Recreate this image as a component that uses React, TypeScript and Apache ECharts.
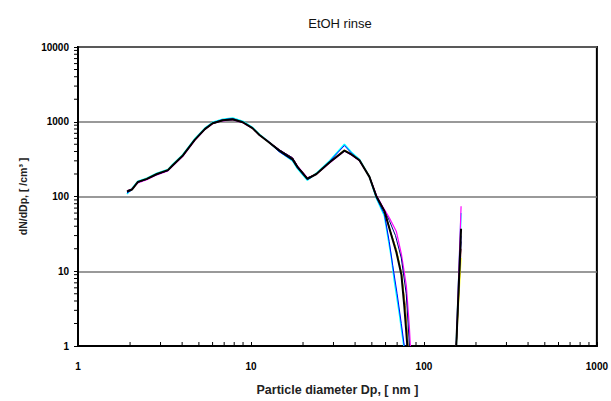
import React, { useEffect, useRef } from "react";
import * as echarts from "echarts";

// Particle diameter (nm) for the common body of all curves
const dpBody = [1.92, 2.05, 2.22, 2.5, 2.86, 3.31, 3.53, 4.04, 4.73, 5.41, 6.01, 6.87, 7.84, 8.96, 10.2, 11.2, 12.8, 14.6, 17.4, 18.6, 21.2, 23.9, 28.5, 34.7, 38.1, 42.4, 48.4, 53.1];

// dN/dDp values per run (body)
const dnBlack = [116, 124, 157, 172, 200, 225, 262, 354, 573, 798, 956, 1046, 1078, 985, 822, 666, 524, 411, 314, 247, 172, 200, 287, 411, 365, 305, 183, 100];
const dnCyan = [108, 128, 160, 176, 205, 230, 270, 365, 590, 820, 985, 1080, 1120, 1020, 840, 680, 530, 400, 300, 235, 165, 205, 300, 500, 390, 315, 185, 95];
const dnBlue = [112, 122, 155, 170, 198, 222, 258, 350, 580, 810, 970, 1065, 1100, 1000, 830, 670, 520, 395, 305, 240, 168, 200, 295, 480, 380, 310, 182, 97];
const dnMagenta = [118, 126, 152, 168, 195, 220, 255, 345, 560, 785, 940, 1030, 1060, 970, 815, 660, 530, 420, 325, 255, 178, 198, 280, 405, 360, 300, 185, 105];
const dnRed = [120, 125, 156, 171, 199, 224, 260, 352, 568, 792, 950, 1040, 1070, 990, 825, 668, 528, 418, 330, 252, 178, 199, 285, 415, 362, 302, 184, 102];
const dnYellow = [117, 124, 156, 172, 200, 226, 261, 353, 570, 795, 952, 1043, 1075, 988, 820, 664, 522, 415, 318, 249, 174, 200, 284, 420, 368, 306, 186, 101];
const dnPurple = [119, 125, 154, 170, 197, 222, 257, 348, 565, 788, 945, 1035, 1065, 980, 818, 662, 527, 422, 328, 254, 176, 199, 283, 410, 362, 301, 186, 104];

// Tails (diameter, value) per run
const tailDpBlack = [59.1, 64.9, 69.3, 74.1, 77.1, 80.2];
const tailDnBlack = [63.7, 30, 18, 9.0, 3.3, 1];
const tailDpCyan = [59.1, 64.9, 67.5, 72.1, 75.1, 76.5];
const tailDnCyan = [54.8, 15, 7.3, 2.7, 1.35, 1];
const tailDpBlue = [59.1, 63, 66, 70, 74, 77];
const tailDnBlue = [58, 25, 12, 5, 2, 1];
const tailDpMagenta = [58, 63.1, 69.3, 74.1, 79.1, 82.4, 83.5];
const tailDnMagenta = [72, 52, 34, 17, 6.5, 1.8, 1];
const tailDpRed = [59, 64, 69, 74, 78, 81];
const tailDnRed = [66, 34, 20, 9.5, 3.5, 1];
const tailDpYellow = [59, 64.5, 69.5, 74.5, 78, 80.8];
const tailDnYellow = [64, 32, 19, 9, 3, 1];
const tailDpPurple = [58, 63, 68.5, 74, 79, 82.5];
const tailDnPurple = [70, 48, 30, 15, 5, 1];

// Large-particle spike
const spikeDp = [153.8, 164];
const spikeTopBlack = 37;
const spikeTopCyan = 60;
const spikeTopBlue = 30;
const spikeTopMagenta = 74;
const spikeTopRed = 20;
const spikeTopYellow = 15;
const spikeTopPurple = 25;

const minorSteps = [2, 3, 4, 5, 6, 7, 8, 9];
const xDecades = [1, 10, 100];
const yDecades = [1, 10, 100, 1000];

function buildData(body: number[], tailDp: number[], tailDn: number[], spikeTop: number) {
  const d: any[] = [];
  dpBody.forEach((x, i) => d.push([x, body[i]]));
  tailDp.forEach((x, i) => d.push([x, tailDn[i]]));
  d.push(["-", "-"]);
  d.push([spikeDp[0], 1]);
  d.push([spikeDp[1], spikeTop]);
  return d;
}

export default function App() {
  const ref = useRef<HTMLDivElement>(null);
  useEffect(() => {
    if (!ref.current) return;
    const chart = echarts.init(ref.current, undefined, { renderer: "svg" });
    const runs = [
      { name: "run 1", color: "#00ffff", body: dnCyan, tdp: tailDpCyan, tdn: tailDnCyan, top: spikeTopCyan, w: 1.5 },
      { name: "run 2", color: "#0000ff", body: dnBlue, tdp: tailDpBlue, tdn: tailDnBlue, top: spikeTopBlue, w: 1 },
      { name: "run 3", color: "#ff00ff", body: dnMagenta, tdp: tailDpMagenta, tdn: tailDnMagenta, top: spikeTopMagenta, w: 1.2 },
      { name: "run 4", color: "#800000", body: dnRed, tdp: tailDpRed, tdn: tailDnRed, top: spikeTopRed, w: 1 },
      { name: "run 5", color: "#ffff00", body: dnYellow, tdp: tailDpYellow, tdn: tailDnYellow, top: spikeTopYellow, w: 1.2 },
      { name: "run 6", color: "#000080", body: dnPurple, tdp: tailDpPurple, tdn: tailDnPurple, top: spikeTopPurple, w: 1 },
      { name: "mean", color: "#000000", body: dnBlack, tdp: tailDpBlack, tdn: tailDnBlack, top: spikeTopBlack, w: 2 },
    ];
    const minorData: any[] = [];
    xDecades.forEach((dec) => minorSteps.forEach((s) => minorData.push([dec * s, 1, 0])));
    yDecades.forEach((dec) => minorSteps.forEach((s) => minorData.push([1, dec * s, 1])));

    const font = "Arial, 'Liberation Sans', sans-serif";
    chart.setOption({
      animation: false,
      title: {
        text: "EtOH rinse",
        left: 335,
        top: 12,
        textAlign: "center",
        textStyle: { fontSize: 13, fontWeight: "normal", color: "#111", fontFamily: font },
      },
      grid: { left: 78, right: 13, top: 47, bottom: 48, show: true, borderColor: "#000", borderWidth: 2, backgroundColor: "transparent" },
      xAxis: {
        type: "log",
        logBase: 10,
        min: 1,
        max: 1000,
        name: "Particle diameter Dp, [ nm ]",
        nameLocation: "middle",
        nameGap: 37,
        nameTextStyle: { fontSize: 12.5, fontWeight: "bold", color: "#222", fontFamily: font },
        axisLine: { show: true, lineStyle: { color: "#000", width: 2 } },
        axisTick: { show: true, inside: true, length: 4, lineStyle: { color: "#000", width: 1 } },
        axisLabel: { margin: 15, fontSize: 10, fontWeight: "bold", color: "#000", fontFamily: font, formatter: (v: number) => String(v) },
        splitLine: { show: false },
      },
      yAxis: {
        type: "log",
        logBase: 10,
        min: 1,
        max: 10000,
        name: "dN/dDp, [ /cm³ ]",
        nameLocation: "middle",
        nameGap: 50,
        nameTextStyle: { fontSize: 10.5, fontWeight: "bold", color: "#222", fontFamily: font },
        axisLine: { show: true, lineStyle: { color: "#000", width: 2 } },
        axisTick: { show: true, inside: false, length: 4, lineStyle: { color: "#000", width: 1 } },
        axisLabel: { margin: 9, fontSize: 10, fontWeight: "bold", color: "#000", fontFamily: font, formatter: (v: number) => String(v) },
        splitLine: { show: true, lineStyle: { color: "#777", width: 1.5 } },
      },
      series: [
        ...runs.map((r) => ({
          name: r.name,
          type: "line",
          symbol: "none",
          data: buildData(r.body, r.tdp, r.tdn, r.top),
          lineStyle: { color: r.color, width: r.w },
          itemStyle: { color: r.color },
          connectNulls: false,
          clip: true,
          z: r.name === "mean" ? 4 : 3,
        })),
        {
          type: "custom",
          data: minorData,
          clip: false,
          silent: true,
          z: 5,
          renderItem: (params: any, api: any) => {
            const p = api.coord([api.value(0), api.value(1)]);
            const kind = api.value(2);
            const shape = kind === 0
              ? { x1: p[0], y1: p[1], x2: p[0], y2: p[1] - 4 }
              : { x1: p[0] - 4, y1: p[1], x2: p[0], y2: p[1] };
            return { type: "line", shape, style: { stroke: "#000", lineWidth: 1 } };
          },
        },
      ],
    });
    return () => chart.dispose();
  }, []);
  return <div ref={ref} style={{ position: "fixed", left: 0, top: 0, width: 611, height: 401, background: "#fff" }} />;
}
